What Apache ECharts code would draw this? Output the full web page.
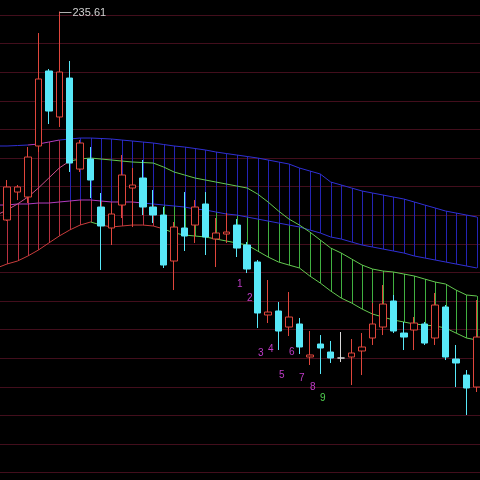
<!DOCTYPE html>
<html><head><meta charset="utf-8">
<script src="https://cdn.jsdelivr.net/npm/echarts@6/dist/echarts.min.js"></script>
<style>html,body{margin:0;padding:0;background:#000;}#c{width:480px;height:480px;}</style>
</head><body><div id="c"></div>
<script>
// ---- data ----
const days = ['1','2','3','4','5','6','7','8','9','10','11','12','13','14','15','16','17','18','19','20','21','22','23','24','25','26','27','28','29','30','31','32','33','34','35','36','37','38','39','40','41','42','43','44','45','46','47'];
const opens = [198.99,199.16,204.05,203.18,212.10,225.21,217.17,223.98,208.07,209.82,201.43,197.76,201.78,204.75,206.50,201.43,200.03,191.99,197.76,198.28,201.96,195.84,196.71,198.28,194.79,191.82,182.55,183.25,180.45,180.98,175.21,177.48,176.08,175.03,175.21,176.26,178.53,180.45,185.00,179.40,179.93,180.98,178.53,183.95,174.86,172.06,169.96];
const closes = [200.91,204.93,204.93,210.17,223.81,218.21,225.03,209.12,212.62,206.15,198.11,200.21,207.03,205.28,201.43,200.03,191.29,197.93,196.36,201.43,196.19,196.89,197.06,194.26,190.59,182.90,183.07,179.75,182.20,176.96,175.56,176.78,175.03,175.03,175.91,176.96,180.98,184.47,179.75,178.70,181.15,177.65,184.30,175.21,174.16,169.79,178.70];
const lows = [198.11,198.99,202.65,202.13,211.05,215.94,215.42,207.55,207.55,203.00,190.42,194.79,199.51,197.93,200.03,198.63,190.77,186.92,193.74,195.14,193.04,190.94,195.14,192.69,189.89,180.28,181.15,176.43,178.88,175.73,173.81,172.24,174.16,174.33,170.31,172.06,177.31,179.05,179.40,176.43,176.43,177.31,177.31,174.68,169.96,165.07,169.09];
const highs = [201.78,206.15,205.28,211.92,231.85,225.56,235.61,226.96,213.14,211.92,203.88,201.96,210.52,208.25,209.65,204.40,201.43,198.81,204.05,202.65,204.05,199.51,200.38,199.33,195.31,192.17,188.67,184.82,186.57,182.03,179.75,179.05,178.01,179.58,178.35,179.40,184.65,187.79,186.05,181.33,182.20,181.33,186.40,184.30,177.31,172.93,185.17];
// band lines
const U1 = [212.10,212.10,212.18,212.27,212.45,212.79,213.14,213.32,213.49,213.49,213.41,213.32,213.14,212.97,212.79,212.62,212.36,212.10,211.92,211.66,211.40,211.05,210.78,210.52,210.26,210.00,209.65,209.30,208.95,208.25,207.73,207.20,205.80,205.28,204.75,204.23,203.88,203.53,203.18,202.83,202.31,201.78,201.26,200.73,200.38,200.03,199.68];
const L1 = [201.78,201.78,201.96,201.96,202.13,202.13,202.31,202.48,202.66,202.66,202.48,202.31,202.31,202.31,202.13,201.96,201.78,201.61,201.43,201.08,200.91,200.56,200.21,200.03,199.68,199.33,198.98,198.63,198.28,197.94,197.41,196.89,196.19,195.84,195.31,194.79,194.44,194.09,193.74,193.39,192.87,192.52,192.17,191.82,191.47,191.12,190.77];
const U2 = [200.03,200.91,201.96,203.18,204.75,206.50,208.25,209.47,209.82,210.00,209.82,209.65,209.47,209.30,209.21,209.12,208.42,207.55,207.03,206.50,206.15,205.80,205.45,205.10,204.75,203.70,202.31,200.73,199.33,198.28,197.06,195.66,194.26,193.39,192.34,191.29,190.59,190.24,190.07,189.72,189.37,188.84,188.32,187.97,186.92,186.05,185.87];
const L2 = [190.77,191.47,191.99,192.87,193.91,195.14,196.36,197.41,198.28,198.81,198.28,197.94,198.11,198.28,198.28,198.11,197.59,196.89,196.54,196.36,196.19,195.84,195.49,195.14,194.79,193.74,192.69,191.82,191.29,190.77,189.37,188.14,186.75,185.52,184.65,183.60,182.72,182.20,181.68,181.33,180.98,180.80,180.63,180.28,179.40,178.53,178.18];
// sequence count labels
const countIdx = [23,24,25,26,27,28,29,30,31];
const countText = ['1','2','3','4','5','6','7','8','9'];
const countLevel = [187.97,185.52,175.91,176.61,172.06,176.08,171.54,169.96,168.04];
// axis ticks
const yMin = 150, yMax = 240, yStep = 5;

// ---- styles ----
const RED = '#e0463c', CYAN = '#58e8f8';
const BLUE_L = '#3030d4', MAG = '#b03cc0', PINK = '#d0508c', GREEN_L = '#64c850', RED_L = '#c83c3c';
const BLUE_H = '#2424b4', RED_H = '#b83040', GREEN_H = '#40b040';
const px = x => Math.round(x) + 0.5;

const candleData = days.map((d, i) => {
  const v = [opens[i], closes[i], lows[i], highs[i]];
  if (opens[i] === closes[i]) {
    return {value: v, itemStyle: {color: '#d8d8d8', color0: '#d8d8d8', borderColor: '#d8d8d8', borderColor0: '#d8d8d8'}};
  }
  return v;
});

function u1Col(i){ return (i >= 3 && i <= 5) ? MAG : BLUE_L; }
function l1Col(i){ return i <= 13 ? MAG : BLUE_L; }
function u2Col(i){ return i <= 6 ? PINK : GREEN_L; }
function l2Col(i){ return (i <= 8 || (i >= 10 && i <= 15)) ? RED_L : GREEN_L; }

function hatchRender(params, api) {
  const i = params.dataIndex;
  const x = px(api.coord([i, U1[i]])[0]);
  const y = v => api.coord([i, v])[1];
  const ch = [];
  const add = (a, b, c) => ch.push({type: 'line', shape: {x1: x, y1: y(a), x2: x, y2: y(b)}, style: {stroke: c, lineWidth: 1}});
  if (i <= 3) add(Math.max(U2[i], L1[i]), L2[i], RED_H);
  else if (i <= 6) add(U1[i], L2[i], RED_H);
  else {
    add(U1[i], L1[i], BLUE_H);
    add(Math.min(U2[i], L1[i]), L2[i], i <= 15 ? RED_H : GREEN_H);
  }
  return {type: 'group', children: ch};
}

function linesRender(params, api) {
  const i = params.dataIndex;
  if (i >= days.length - 1) return {type: 'group', children: []};
  const ch = [];
  const seg = (arr, col) => {
    const a = api.coord([i, arr[i]]), b = api.coord([i + 1, arr[i + 1]]);
    ch.push({type: 'line', shape: {x1: a[0], y1: a[1], x2: b[0], y2: b[1]}, style: {stroke: col, lineWidth: 1}});
  };
  seg(U1, u1Col(i)); seg(L1, l1Col(i)); seg(U2, u2Col(i)); seg(L2, l2Col(i));
  return {type: 'group', children: ch};
}

let imax = 0;
highs.forEach((h, i) => { if (h > highs[imax]) imax = i; });

const chart = echarts.init(document.getElementById('c'));
chart.setOption({
  backgroundColor: '#000',
  animation: false,
  grid: {left: -8.6, top: -13.6, width: 490.7, height: 514.8, outerBoundsMode: 'none', containLabel: false},
  xAxis: {type: 'category', data: days, axisLine: {show: false}, axisTick: {show: false}, axisLabel: {show: false}, splitLine: {show: false}},
  yAxis: {type: 'value', min: yMin, max: yMax, interval: yStep, axisLine: {show: false}, axisTick: {show: false}, axisLabel: {show: false},
          splitLine: {show: true, lineStyle: {color: '#420e1c', width: 1}}},
  series: [
    {type: 'custom', z: 1, renderItem: hatchRender, data: days.map((d, i) => [i, U1[i]]), encode: {x: 0, y: 1}, silent: true},
    {type: 'custom', z: 2, renderItem: linesRender, data: days.map((d, i) => [i, U1[i]]), encode: {x: 0, y: 1}, silent: true},
    {type: 'candlestick', z: 3, data: candleData, barWidth: 7,
     itemStyle: {color: '#000', color0: CYAN, borderColor: RED, borderColor0: CYAN, borderWidth: 1}},
    {type: 'custom', z: 4, silent: true, data: countIdx.map((k, j) => [k, countLevel[j], j]), encode: {x: 0, y: 1},
     renderItem: (params, api) => {
       const j = params.dataIndex;
       const p = api.coord([countIdx[j], countLevel[j]]);
       return {type: 'text', x: Math.round(p[0]), y: p[1], style: {text: countText[j], fill: j === 8 ? '#50d050' : '#c03cc8',
               font: '10px "Liberation Sans", Arial, sans-serif', align: 'left', verticalAlign: 'middle'}};
     }},
    {type: 'custom', z: 5, silent: true, data: [[imax, highs[imax]]], encode: {x: 0, y: 1},
     renderItem: (params, api) => {
       const p = api.coord([api.value(0), api.value(1)]);
       const x0 = px(p[0]), y0 = Math.round(p[1]) + 0.5;
       return {type: 'group', children: [
         {type: 'line', shape: {x1: x0, y1: y0, x2: x0 + 12, y2: y0}, style: {stroke: '#b0b0b0', lineWidth: 1}},
         {type: 'text', x: x0 + 13, y: y0, style: {text: highs[imax].toFixed(2), fill: '#d0d0d0',
          font: '11px "Liberation Sans", Arial, sans-serif', align: 'left', verticalAlign: 'middle'}}
       ]};
     }}
  ]
});
</script>
</body></html>
